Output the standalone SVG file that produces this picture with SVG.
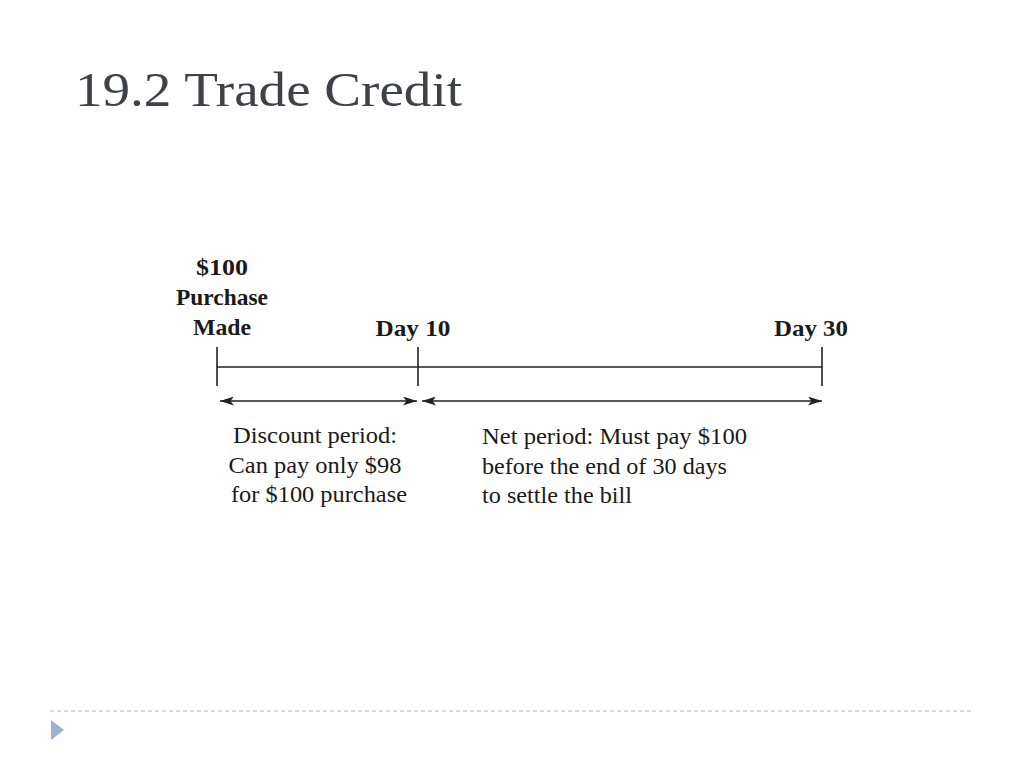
<svg xmlns="http://www.w3.org/2000/svg" width="1024" height="768" viewBox="0 0 1024 768">
<defs>
<marker id="ah" viewBox="0 0 14 9" refX="14" refY="4.5" markerWidth="14" markerHeight="9" markerUnits="userSpaceOnUse" orient="auto-start-reverse">
<path d="M0,0 L14,4.5 L0,9 L3.5,4.5 Z" fill="#222"/>
</marker>
<style>
.title{font-family:"Liberation Serif","DejaVu Serif",serif;font-size:48px;fill:#404048}
.lb{font-family:"Liberation Serif",serif;font-weight:bold;font-size:23px;fill:#1a1a1a}
.tx{font-family:"Liberation Serif",serif;font-size:23px;fill:#1a1a1a}
.ln{stroke:#222;stroke-width:1.6;fill:none}
</style>
</defs>
<rect width="1024" height="768" fill="#fff"/>
<text id="title" class="title" x="75" y="106" textLength="387" lengthAdjust="spacingAndGlyphs">19.2 Trade Credit</text>
<g id="timeline">
<line class="ln" x1="217" y1="367" x2="822" y2="367"/>
<line class="ln" x1="217" y1="347" x2="217" y2="386"/>
<line class="ln" x1="418" y1="347" x2="418" y2="386"/>
<line class="ln" x1="822" y1="347" x2="822" y2="386"/>
</g>
<g id="connectors">
<line class="ln" x1="220" y1="401" x2="417" y2="401" marker-start="url(#ah)" marker-end="url(#ah)"/>
<line class="ln" x1="422" y1="401" x2="822" y2="401" marker-start="url(#ah)" marker-end="url(#ah)"/>
</g>
<g id="purchase">
<text class="lb" x="222" y="275" text-anchor="middle" textLength="52" lengthAdjust="spacingAndGlyphs">$100</text>
<text class="lb" x="222" y="305" text-anchor="middle" textLength="92" lengthAdjust="spacingAndGlyphs">Purchase</text>
<text class="lb" x="222" y="335" text-anchor="middle" textLength="58" lengthAdjust="spacingAndGlyphs">Made</text>
</g>
<g id="day10">
<text class="lb" x="413" y="336" text-anchor="middle" textLength="75" lengthAdjust="spacingAndGlyphs">Day 10</text>
</g>
<g id="day30">
<text class="lb" x="811" y="336" text-anchor="middle" textLength="74" lengthAdjust="spacingAndGlyphs">Day 30</text>
</g>
<g id="discount">
<text class="tx" x="315" y="443" text-anchor="middle" textLength="164" lengthAdjust="spacingAndGlyphs">Discount period:</text>
<text class="tx" x="315" y="473" text-anchor="middle" textLength="173" lengthAdjust="spacingAndGlyphs">Can pay only $98</text>
<text class="tx" x="319" y="502" text-anchor="middle" textLength="176" lengthAdjust="spacingAndGlyphs">for $100 purchase</text>
</g>
<g id="net">
<text class="tx" x="482" y="444" textLength="265" lengthAdjust="spacingAndGlyphs">Net period: Must pay $100</text>
<text class="tx" x="482" y="474" textLength="245" lengthAdjust="spacingAndGlyphs">before the end of 30 days</text>
<text class="tx" x="482" y="503" textLength="150" lengthAdjust="spacingAndGlyphs">to settle the bill</text>
</g>
<line x1="50" y1="711" x2="973" y2="711" stroke="#b0b4b8" stroke-width="1" stroke-dasharray="4,3"/>
<path d="M51,720 L64,730 L51,740 Z" fill="#9ab3d3"/>
</svg>
